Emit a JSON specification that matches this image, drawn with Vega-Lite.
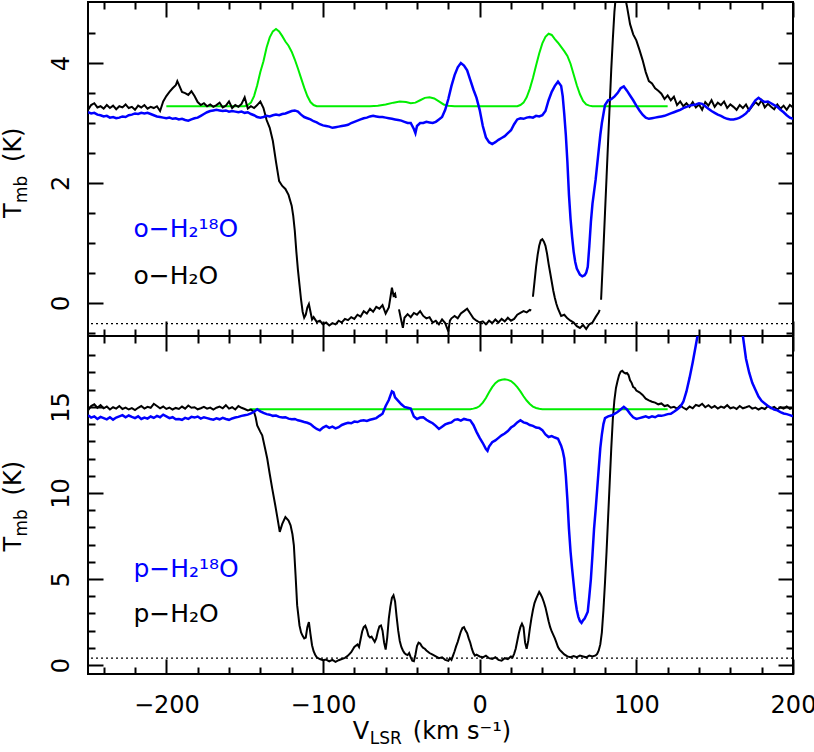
{
  "$schema": "https://vega.github.io/schema/vega-lite/v6.json",
  "padding": 0,
  "spacing": 0,
  "bounds": "flush",
  "config": {
    "view": {"stroke": "black", "strokeWidth": 2},
    "axis": {"domain": false, "grid": false, "labelFont": "DejaVu Sans", "labelFontSize": 24, "labelColor": "black", "tickColor": "black", "tickWidth": 2, "labelFlush": false, "labelOverlap": false, "title": null},
    "text": {"font": "DejaVu Sans"},
    "concat": {"spacing": 0}
  },
  "datasets": {
    "o_model": [
      {"v":-200,"T":3.28},{"v":-150,"T":3.28},{"v":-148,"T":3.30},{"v":-146,"T":3.34},{"v":-144,"T":3.45},{"v":-142,"T":3.63},{"v":-140,"T":3.85},{"v":-138,"T":4.03},{"v":-136,"T":4.26},{"v":-134,"T":4.43},{"v":-132,"T":4.53},{"v":-130,"T":4.57},{"v":-128,"T":4.53},{"v":-126,"T":4.45},{"v":-124,"T":4.36},{"v":-122,"T":4.29},{"v":-120,"T":4.19},{"v":-118,"T":4.06},{"v":-116,"T":3.91},{"v":-114,"T":3.75},{"v":-112,"T":3.59},{"v":-110,"T":3.45},{"v":-108,"T":3.35},{"v":-106,"T":3.30},{"v":-104,"T":3.28},{"v":-70,"T":3.28},{"v":-65,"T":3.29},{"v":-60,"T":3.31},{"v":-55,"T":3.34},{"v":-51,"T":3.36},{"v":-47,"T":3.35},{"v":-44,"T":3.33},{"v":-41,"T":3.34},{"v":-38,"T":3.38},{"v":-35,"T":3.42},{"v":-32,"T":3.43},{"v":-29,"T":3.41},{"v":-26,"T":3.36},{"v":-23,"T":3.31},{"v":-20,"T":3.29},{"v":-16,"T":3.28},{"v":24,"T":3.28},{"v":26,"T":3.30},{"v":28,"T":3.34},{"v":30,"T":3.43},{"v":32,"T":3.57},{"v":34,"T":3.75},{"v":36,"T":3.96},{"v":38,"T":4.16},{"v":40,"T":4.33},{"v":42,"T":4.44},{"v":44,"T":4.49},{"v":46,"T":4.47},{"v":48,"T":4.40},{"v":50,"T":4.34},{"v":52,"T":4.27},{"v":54,"T":4.20},{"v":56,"T":4.12},{"v":58,"T":3.99},{"v":60,"T":3.81},{"v":62,"T":3.63},{"v":64,"T":3.48},{"v":66,"T":3.37},{"v":68,"T":3.31},{"v":70,"T":3.29},{"v":72,"T":3.28},{"v":120,"T":3.28}
    ],
    "o_h2o": [
      {"v":-250,"T":3.22,"seg":1},{"v":-248,"T":3.30,"seg":1},{"v":-246,"T":3.33,"seg":1},{"v":-244,"T":3.26,"seg":1},{"v":-242,"T":3.28,"seg":1},{"v":-240,"T":3.24,"seg":1},{"v":-238,"T":3.30,"seg":1},{"v":-236,"T":3.25,"seg":1},{"v":-234,"T":3.29,"seg":1},{"v":-232,"T":3.23,"seg":1},{"v":-230,"T":3.28,"seg":1},{"v":-228,"T":3.26,"seg":1},{"v":-226,"T":3.31,"seg":1},{"v":-224,"T":3.25,"seg":1},{"v":-222,"T":3.27,"seg":1},{"v":-220,"T":3.22,"seg":1},{"v":-218,"T":3.29,"seg":1},{"v":-216,"T":3.26,"seg":1},{"v":-214,"T":3.30,"seg":1},{"v":-212,"T":3.24,"seg":1},{"v":-210,"T":3.27,"seg":1},{"v":-208,"T":3.25,"seg":1},{"v":-206,"T":3.28,"seg":1},{"v":-204,"T":3.20,"seg":1},{"v":-202,"T":3.36,"seg":1},{"v":-200,"T":3.45,"seg":1},{"v":-198,"T":3.52,"seg":1},{"v":-196,"T":3.58,"seg":1},{"v":-194,"T":3.63,"seg":1},{"v":-193,"T":3.70,"seg":1},{"v":-192,"T":3.64,"seg":1},{"v":-190,"T":3.52,"seg":1},{"v":-188,"T":3.50,"seg":1},{"v":-186,"T":3.47,"seg":1},{"v":-184,"T":3.53,"seg":1},{"v":-182,"T":3.45,"seg":1},{"v":-180,"T":3.35,"seg":1},{"v":-178,"T":3.30,"seg":1},{"v":-176,"T":3.33,"seg":1},{"v":-174,"T":3.28,"seg":1},{"v":-172,"T":3.31,"seg":1},{"v":-170,"T":3.27,"seg":1},{"v":-168,"T":3.30,"seg":1},{"v":-166,"T":3.34,"seg":1},{"v":-164,"T":3.26,"seg":1},{"v":-162,"T":3.29,"seg":1},{"v":-160,"T":3.36,"seg":1},{"v":-158,"T":3.25,"seg":1},{"v":-156,"T":3.30,"seg":1},{"v":-154,"T":3.27,"seg":1},{"v":-152,"T":3.32,"seg":1},{"v":-150,"T":3.43,"seg":1},{"v":-148,"T":3.24,"seg":1},{"v":-146,"T":3.28,"seg":1},{"v":-144,"T":3.25,"seg":1},{"v":-142,"T":3.30,"seg":1},{"v":-140,"T":3.36,"seg":1},{"v":-138,"T":3.25,"seg":1},{"v":-136,"T":3.05,"seg":1},{"v":-134,"T":2.92,"seg":1},{"v":-132,"T":2.70,"seg":1},{"v":-130,"T":2.35,"seg":1},{"v":-128,"T":2.03,"seg":1},{"v":-126,"T":1.95,"seg":1},{"v":-124,"T":1.90,"seg":1},{"v":-122,"T":1.80,"seg":1},{"v":-120,"T":1.62,"seg":1},{"v":-119,"T":1.45,"seg":1},{"v":-118,"T":1.20,"seg":1},{"v":-117,"T":0.85,"seg":1},{"v":-116,"T":0.55,"seg":1},{"v":-115,"T":0.30,"seg":1},{"v":-114,"T":0.05,"seg":1},{"v":-113,"T":-0.15,"seg":1},{"v":-112,"T":-0.25,"seg":1},{"v":-111,"T":-0.20,"seg":1},{"v":-110,"T":-0.08,"seg":1},{"v":-109,"T":-0.02,"seg":1},{"v":-108,"T":-0.15,"seg":1},{"v":-107,"T":-0.28,"seg":1},{"v":-106,"T":-0.24,"seg":1},{"v":-104,"T":-0.32,"seg":1},{"v":-102,"T":-0.30,"seg":1},{"v":-100,"T":-0.36,"seg":1},{"v":-98,"T":-0.33,"seg":1},{"v":-96,"T":-0.38,"seg":1},{"v":-94,"T":-0.34,"seg":1},{"v":-92,"T":-0.36,"seg":1},{"v":-90,"T":-0.30,"seg":1},{"v":-88,"T":-0.33,"seg":1},{"v":-86,"T":-0.27,"seg":1},{"v":-84,"T":-0.29,"seg":1},{"v":-82,"T":-0.24,"seg":1},{"v":-80,"T":-0.27,"seg":1},{"v":-78,"T":-0.20,"seg":1},{"v":-76,"T":-0.23,"seg":1},{"v":-74,"T":-0.14,"seg":1},{"v":-72,"T":-0.18,"seg":1},{"v":-70,"T":-0.10,"seg":1},{"v":-68,"T":-0.15,"seg":1},{"v":-66,"T":-0.07,"seg":1},{"v":-64,"T":-0.10,"seg":1},{"v":-62,"T":-0.04,"seg":1},{"v":-60,"T":-0.18,"seg":1},{"v":-58,"T":-0.08,"seg":1},{"v":-56,"T":0.25,"seg":1},{"v":-55,"T":0.12,"seg":1},{"v":-54,"T":0.15,"seg":1},{"v":-53.5,"T":0.08,"seg":1},
      {"v":-51.5,"T":-0.11,"seg":2},{"v":-50,"T":-0.30,"seg":2},{"v":-49,"T":-0.42,"seg":2},{"v":-48,"T":-0.25,"seg":2},{"v":-46,"T":-0.19,"seg":2},{"v":-44,"T":-0.24,"seg":2},{"v":-42,"T":-0.17,"seg":2},{"v":-40,"T":-0.20,"seg":2},{"v":-38,"T":-0.14,"seg":2},{"v":-36,"T":-0.22,"seg":2},{"v":-34,"T":-0.26,"seg":2},{"v":-32,"T":-0.24,"seg":2},{"v":-30,"T":-0.33,"seg":2},{"v":-28,"T":-0.30,"seg":2},{"v":-26,"T":-0.36,"seg":2},{"v":-24,"T":-0.28,"seg":2},{"v":-22,"T":-0.34,"seg":2},{"v":-20,"T":-0.48,"seg":2},{"v":-19,"T":-0.30,"seg":2},{"v":-18,"T":-0.26,"seg":2},{"v":-16,"T":-0.22,"seg":2},{"v":-14,"T":-0.26,"seg":2},{"v":-12,"T":-0.18,"seg":2},{"v":-10,"T":-0.14,"seg":2},{"v":-8,"T":-0.10,"seg":2},{"v":-6,"T":-0.18,"seg":2},{"v":-4,"T":-0.26,"seg":2},{"v":-2,"T":-0.30,"seg":2},{"v":0,"T":-0.33,"seg":2},{"v":2,"T":-0.31,"seg":2},{"v":4,"T":-0.36,"seg":2},{"v":6,"T":-0.30,"seg":2},{"v":8,"T":-0.34,"seg":2},{"v":10,"T":-0.28,"seg":2},{"v":12,"T":-0.33,"seg":2},{"v":14,"T":-0.27,"seg":2},{"v":16,"T":-0.31,"seg":2},{"v":18,"T":-0.25,"seg":2},{"v":20,"T":-0.30,"seg":2},{"v":22,"T":-0.27,"seg":2},{"v":24,"T":-0.20,"seg":2},{"v":26,"T":-0.17,"seg":2},{"v":28,"T":-0.14,"seg":2},{"v":30,"T":-0.16,"seg":2},{"v":32,"T":-0.12,"seg":2},{"v":32.9,"T":-0.13,"seg":2},
      {"v":34,"T":0.10,"seg":3},{"v":35,"T":0.35,"seg":3},{"v":36,"T":0.60,"seg":3},{"v":37,"T":0.80,"seg":3},{"v":38,"T":0.95,"seg":3},{"v":39,"T":1.04,"seg":3},{"v":40,"T":1.06,"seg":3},{"v":41,"T":1.02,"seg":3},{"v":42,"T":0.95,"seg":3},{"v":43,"T":0.82,"seg":3},{"v":44,"T":0.65,"seg":3},{"v":45,"T":0.50,"seg":3},{"v":46,"T":0.35,"seg":3},{"v":47,"T":0.20,"seg":3},{"v":48,"T":0.08,"seg":3},{"v":49,"T":-0.02,"seg":3},{"v":50,"T":-0.10,"seg":3},{"v":52,"T":-0.22,"seg":3},{"v":54,"T":-0.20,"seg":3},{"v":56,"T":-0.26,"seg":3},{"v":58,"T":-0.30,"seg":3},{"v":60,"T":-0.33,"seg":3},{"v":62,"T":-0.39,"seg":3},{"v":64,"T":-0.42,"seg":3},{"v":66,"T":-0.37,"seg":3},{"v":68,"T":-0.44,"seg":3},{"v":70,"T":-0.36,"seg":3},{"v":72,"T":-0.33,"seg":3},{"v":74,"T":-0.24,"seg":3},{"v":76,"T":-0.16,"seg":3},{"v":76.6,"T":-0.12,"seg":3},
      {"v":77.5,"T":0.05,"seg":4},{"v":79,"T":0.9,"seg":4},{"v":80,"T":1.5,"seg":4},{"v":81,"T":2.1,"seg":4},{"v":82,"T":2.7,"seg":4},{"v":83,"T":3.3,"seg":4},{"v":84,"T":3.9,"seg":4},{"v":85,"T":4.4,"seg":4},{"v":86,"T":4.85,"seg":4},{"v":87,"T":5.15,"seg":4},{"v":88,"T":5.3,"seg":4},{"v":90,"T":5.35,"seg":4},{"v":92,"T":5.2,"seg":4},{"v":94,"T":4.95,"seg":4},{"v":96,"T":4.65,"seg":4},{"v":98,"T":4.48,"seg":4},{"v":100,"T":4.38,"seg":4},{"v":102,"T":4.22,"seg":4},{"v":104,"T":4.05,"seg":4},{"v":106,"T":3.85,"seg":4},{"v":108,"T":3.70,"seg":4},{"v":110,"T":3.66,"seg":4},{"v":112,"T":3.58,"seg":4},{"v":114,"T":3.54,"seg":4},{"v":116,"T":3.49,"seg":4},{"v":118,"T":3.40,"seg":4},{"v":120,"T":3.46,"seg":4},{"v":122,"T":3.38,"seg":4},{"v":124,"T":3.44,"seg":4},{"v":126,"T":3.30,"seg":4},{"v":128,"T":3.36,"seg":4},{"v":130,"T":3.28,"seg":4},{"v":132,"T":3.33,"seg":4},{"v":134,"T":3.27,"seg":4},{"v":136,"T":3.35,"seg":4},{"v":138,"T":3.26,"seg":4},{"v":140,"T":3.31,"seg":4},{"v":142,"T":3.22,"seg":4},{"v":144,"T":3.35,"seg":4},{"v":146,"T":3.29,"seg":4},{"v":148,"T":3.38,"seg":4},{"v":150,"T":3.27,"seg":4},{"v":152,"T":3.34,"seg":4},{"v":154,"T":3.30,"seg":4},{"v":156,"T":3.36,"seg":4},{"v":158,"T":3.25,"seg":4},{"v":160,"T":3.31,"seg":4},{"v":162,"T":3.27,"seg":4},{"v":164,"T":3.22,"seg":4},{"v":166,"T":3.30,"seg":4},{"v":168,"T":3.25,"seg":4},{"v":170,"T":3.31,"seg":4},{"v":172,"T":3.21,"seg":4},{"v":174,"T":3.28,"seg":4},{"v":176,"T":3.35,"seg":4},{"v":178,"T":3.30,"seg":4},{"v":180,"T":3.38,"seg":4},{"v":182,"T":3.26,"seg":4},{"v":184,"T":3.32,"seg":4},{"v":186,"T":3.27,"seg":4},{"v":188,"T":3.23,"seg":4},{"v":190,"T":3.31,"seg":4},{"v":192,"T":3.24,"seg":4},{"v":194,"T":3.29,"seg":4},{"v":196,"T":3.22,"seg":4},{"v":198,"T":3.30,"seg":4},{"v":200,"T":3.26,"seg":4}
    ],
    "o_h218o": [
      {"v":-250,"T":3.18},{"v":-248,"T":3.16},{"v":-246,"T":3.17},{"v":-244,"T":3.14},{"v":-242,"T":3.13},{"v":-240,"T":3.11},{"v":-238,"T":3.12},{"v":-236,"T":3.09},{"v":-234,"T":3.10},{"v":-232,"T":3.08},{"v":-230,"T":3.09},{"v":-228,"T":3.11},{"v":-226,"T":3.10},{"v":-224,"T":3.13},{"v":-222,"T":3.14},{"v":-220,"T":3.16},{"v":-218,"T":3.15},{"v":-216,"T":3.17},{"v":-214,"T":3.16},{"v":-212,"T":3.17},{"v":-210,"T":3.15},{"v":-208,"T":3.13},{"v":-206,"T":3.11},{"v":-204,"T":3.10},{"v":-202,"T":3.09},{"v":-200,"T":3.08},{"v":-198,"T":3.09},{"v":-196,"T":3.07},{"v":-194,"T":3.08},{"v":-192,"T":3.06},{"v":-190,"T":3.07},{"v":-188,"T":3.05},{"v":-186,"T":3.04},{"v":-184,"T":3.06},{"v":-182,"T":3.08},{"v":-180,"T":3.09},{"v":-178,"T":3.12},{"v":-176,"T":3.15},{"v":-174,"T":3.18},{"v":-172,"T":3.20},{"v":-170,"T":3.21},{"v":-168,"T":3.22},{"v":-166,"T":3.21},{"v":-164,"T":3.20},{"v":-162,"T":3.21},{"v":-160,"T":3.19},{"v":-158,"T":3.20},{"v":-156,"T":3.19},{"v":-154,"T":3.18},{"v":-152,"T":3.19},{"v":-150,"T":3.17},{"v":-148,"T":3.18},{"v":-146,"T":3.15},{"v":-144,"T":3.13},{"v":-142,"T":3.10},{"v":-140,"T":3.09},{"v":-138,"T":3.10},{"v":-136,"T":3.12},{"v":-134,"T":3.11},{"v":-132,"T":3.13},{"v":-130,"T":3.14},{"v":-128,"T":3.13},{"v":-126,"T":3.15},{"v":-124,"T":3.16},{"v":-122,"T":3.18},{"v":-120,"T":3.20},{"v":-118,"T":3.21},{"v":-116,"T":3.19},{"v":-114,"T":3.14},{"v":-112,"T":3.10},{"v":-110,"T":3.08},{"v":-108,"T":3.06},{"v":-106,"T":3.03},{"v":-104,"T":3.01},{"v":-102,"T":2.98},{"v":-100,"T":2.96},{"v":-98,"T":2.95},{"v":-96,"T":2.94},{"v":-94,"T":2.92},{"v":-92,"T":2.93},{"v":-90,"T":2.94},{"v":-88,"T":2.95},{"v":-86,"T":2.96},{"v":-84,"T":2.97},{"v":-82,"T":3.00},{"v":-80,"T":3.02},{"v":-78,"T":3.04},{"v":-76,"T":3.06},{"v":-74,"T":3.08},{"v":-72,"T":3.09},{"v":-70,"T":3.11},{"v":-68,"T":3.12},{"v":-66,"T":3.11},{"v":-64,"T":3.10},{"v":-62,"T":3.10},{"v":-60,"T":3.09},{"v":-58,"T":3.08},{"v":-56,"T":3.07},{"v":-54,"T":3.06},{"v":-52,"T":3.05},{"v":-50,"T":3.04},{"v":-48,"T":3.02},{"v":-46,"T":3.00},{"v":-44,"T":3.00},{"v":-42,"T":2.90},{"v":-41,"T":2.83},{"v":-40,"T":2.95},{"v":-38,"T":3.00},{"v":-36,"T":3.00},{"v":-34,"T":3.02},{"v":-32,"T":3.01},{"v":-30,"T":3.00},{"v":-28,"T":3.02},{"v":-26,"T":3.06},{"v":-24,"T":3.10},{"v":-22,"T":3.22},{"v":-20,"T":3.40},{"v":-18,"T":3.62},{"v":-16,"T":3.80},{"v":-14,"T":3.93},{"v":-12,"T":4.00},{"v":-10,"T":3.96},{"v":-8,"T":3.88},{"v":-6,"T":3.72},{"v":-4,"T":3.56},{"v":-2,"T":3.42},{"v":0,"T":3.22},{"v":2,"T":2.95},{"v":4,"T":2.76},{"v":6,"T":2.68},{"v":8,"T":2.65},{"v":10,"T":2.68},{"v":12,"T":2.72},{"v":14,"T":2.75},{"v":16,"T":2.78},{"v":18,"T":2.83},{"v":20,"T":2.88},{"v":22,"T":2.98},{"v":24,"T":3.06},{"v":26,"T":3.08},{"v":28,"T":3.07},{"v":30,"T":3.09},{"v":32,"T":3.10},{"v":34,"T":3.09},{"v":36,"T":3.12},{"v":38,"T":3.11},{"v":40,"T":3.13},{"v":42,"T":3.20},{"v":44,"T":3.38},{"v":46,"T":3.52},{"v":48,"T":3.62},{"v":50,"T":3.69},{"v":52,"T":3.62},{"v":53,"T":3.45},{"v":54,"T":3.15},{"v":55,"T":2.80},{"v":56,"T":2.35},{"v":57,"T":1.80},{"v":58,"T":1.40},{"v":59,"T":1.10},{"v":60,"T":0.85},{"v":61,"T":0.68},{"v":62,"T":0.57},{"v":64,"T":0.47},{"v":65.5,"T":0.44},{"v":67,"T":0.46},{"v":68,"T":0.50},{"v":69,"T":0.60},{"v":70,"T":0.95},{"v":71,"T":1.35},{"v":72,"T":1.65},{"v":73,"T":1.85},{"v":74,"T":2.05},{"v":75,"T":2.30},{"v":76,"T":2.55},{"v":77,"T":2.80},{"v":78,"T":3.00},{"v":79,"T":3.15},{"v":80,"T":3.30},{"v":82,"T":3.38},{"v":84,"T":3.40},{"v":86,"T":3.44},{"v":88,"T":3.50},{"v":90,"T":3.58},{"v":92,"T":3.61},{"v":94,"T":3.54},{"v":96,"T":3.46},{"v":98,"T":3.38},{"v":100,"T":3.29},{"v":102,"T":3.21},{"v":104,"T":3.14},{"v":106,"T":3.09},{"v":108,"T":3.07},{"v":110,"T":3.08},{"v":112,"T":3.09},{"v":114,"T":3.10},{"v":116,"T":3.11},{"v":118,"T":3.12},{"v":120,"T":3.14},{"v":122,"T":3.16},{"v":124,"T":3.18},{"v":126,"T":3.20},{"v":128,"T":3.22},{"v":130,"T":3.25},{"v":132,"T":3.27},{"v":134,"T":3.29},{"v":136,"T":3.30},{"v":138,"T":3.31},{"v":140,"T":3.33},{"v":142,"T":3.32},{"v":144,"T":3.28},{"v":146,"T":3.24},{"v":148,"T":3.20},{"v":150,"T":3.17},{"v":152,"T":3.14},{"v":154,"T":3.12},{"v":156,"T":3.09},{"v":158,"T":3.07},{"v":160,"T":3.06},{"v":162,"T":3.06},{"v":164,"T":3.07},{"v":166,"T":3.09},{"v":168,"T":3.12},{"v":170,"T":3.16},{"v":172,"T":3.22},{"v":174,"T":3.30},{"v":176,"T":3.38},{"v":178,"T":3.42},{"v":180,"T":3.38},{"v":182,"T":3.35},{"v":184,"T":3.36},{"v":186,"T":3.33},{"v":188,"T":3.30},{"v":190,"T":3.27},{"v":192,"T":3.22},{"v":194,"T":3.18},{"v":196,"T":3.13},{"v":198,"T":3.09},{"v":200,"T":3.07}
    ],
    "p_model": [
      {"v":-147,"T":14.87},{"v":-6,"T":14.87},{"v":-4,"T":14.90},{"v":-2,"T":14.95},{"v":0,"T":15.05},{"v":2,"T":15.25},{"v":4,"T":15.52},{"v":6,"T":15.85},{"v":8,"T":16.15},{"v":10,"T":16.38},{"v":12,"T":16.52},{"v":14,"T":16.58},{"v":16,"T":16.60},{"v":18,"T":16.57},{"v":20,"T":16.50},{"v":22,"T":16.35},{"v":24,"T":16.15},{"v":26,"T":15.90},{"v":28,"T":15.62},{"v":30,"T":15.37},{"v":32,"T":15.17},{"v":34,"T":15.02},{"v":36,"T":14.94},{"v":38,"T":14.89},{"v":40,"T":14.87},{"v":120,"T":14.87}
    ],
    "p_h2o": [
      {"v":-250,"T":14.80},{"v":-248,"T":15.05},{"v":-246,"T":15.15},{"v":-244,"T":14.95},{"v":-242,"T":15.10},{"v":-240,"T":14.92},{"v":-238,"T":15.02},{"v":-236,"T":14.85},{"v":-234,"T":14.98},{"v":-232,"T":14.90},{"v":-230,"T":15.05},{"v":-228,"T":14.88},{"v":-226,"T":14.96},{"v":-224,"T":14.85},{"v":-222,"T":14.93},{"v":-220,"T":14.82},{"v":-218,"T":14.95},{"v":-216,"T":15.05},{"v":-214,"T":14.90},{"v":-212,"T":15.00},{"v":-210,"T":14.95},{"v":-208,"T":15.18},{"v":-206,"T":15.05},{"v":-204,"T":14.92},{"v":-202,"T":15.02},{"v":-200,"T":14.88},{"v":-198,"T":14.96},{"v":-196,"T":14.85},{"v":-194,"T":14.94},{"v":-192,"T":14.88},{"v":-190,"T":15.02},{"v":-188,"T":14.90},{"v":-186,"T":15.08},{"v":-184,"T":14.95},{"v":-182,"T":14.98},{"v":-180,"T":14.86},{"v":-178,"T":14.92},{"v":-176,"T":15.00},{"v":-174,"T":14.90},{"v":-172,"T":14.96},{"v":-170,"T":14.84},{"v":-168,"T":14.95},{"v":-166,"T":15.02},{"v":-164,"T":14.92},{"v":-162,"T":15.10},{"v":-160,"T":14.90},{"v":-158,"T":14.98},{"v":-156,"T":14.85},{"v":-154,"T":15.05},{"v":-152,"T":14.95},{"v":-150,"T":14.88},{"v":-148,"T":14.80},{"v":-146,"T":14.85},{"v":-144,"T":14.70},{"v":-143,"T":14.40},{"v":-142,"T":13.93},{"v":-140,"T":13.55},{"v":-138.8,"T":13.35},{"v":-137,"T":12.60},{"v":-135.6,"T":12.00},{"v":-134,"T":11.10},{"v":-132.4,"T":10.25},{"v":-130.5,"T":9.30},{"v":-129.2,"T":8.61},{"v":-127.6,"T":7.74},{"v":-126,"T":8.20},{"v":-124,"T":8.60},{"v":-122,"T":8.40},{"v":-120.7,"T":8.12},{"v":-119.5,"T":7.60},{"v":-118.6,"T":6.96},{"v":-117.5,"T":5.20},{"v":-116.5,"T":3.48},{"v":-115,"T":2.30},{"v":-114,"T":1.90},{"v":-113,"T":1.70},{"v":-112,"T":1.55},{"v":-111,"T":1.60},{"v":-110,"T":2.20},{"v":-109,"T":2.50},{"v":-108,"T":1.80},{"v":-107,"T":1.15},{"v":-106,"T":0.80},{"v":-105,"T":0.60},{"v":-104,"T":0.45},{"v":-102,"T":0.35},{"v":-100,"T":0.28},{"v":-98,"T":0.32},{"v":-96,"T":0.22},{"v":-94,"T":0.30},{"v":-92,"T":0.18},{"v":-90,"T":0.28},{"v":-88,"T":0.35},{"v":-86,"T":0.42},{"v":-84,"T":0.55},{"v":-82,"T":0.75},{"v":-80,"T":1.05},{"v":-78,"T":1.20},{"v":-77,"T":1.05},{"v":-76,"T":1.50},{"v":-75,"T":1.95},{"v":-74,"T":2.20},{"v":-73,"T":2.28},{"v":-72,"T":2.05},{"v":-71,"T":1.70},{"v":-70,"T":1.60},{"v":-69,"T":1.65},{"v":-68,"T":1.50},{"v":-67,"T":1.35},{"v":-66,"T":1.55},{"v":-65,"T":1.95},{"v":-64,"T":2.25},{"v":-63,"T":2.30},{"v":-62,"T":2.00},{"v":-61,"T":1.30},{"v":-60,"T":0.90},{"v":-59,"T":1.60},{"v":-58,"T":2.70},{"v":-57,"T":3.40},{"v":-56,"T":3.90},{"v":-55,"T":4.05},{"v":-54,"T":3.70},{"v":-53,"T":2.80},{"v":-52,"T":2.00},{"v":-51,"T":1.40},{"v":-50,"T":1.05},{"v":-49,"T":0.85},{"v":-48,"T":0.70},{"v":-47,"T":0.62},{"v":-46,"T":0.58},{"v":-45,"T":0.70},{"v":-44,"T":0.45},{"v":-43,"T":0.25},{"v":-42,"T":0.22},{"v":-41,"T":0.60},{"v":-40,"T":1.10},{"v":-39,"T":1.30},{"v":-38,"T":1.25},{"v":-37,"T":1.10},{"v":-36,"T":1.00},{"v":-35,"T":0.95},{"v":-34,"T":0.85},{"v":-32,"T":0.70},{"v":-30,"T":0.60},{"v":-28,"T":0.50},{"v":-26,"T":0.40},{"v":-24,"T":0.45},{"v":-22,"T":0.30},{"v":-20,"T":0.25},{"v":-19,"T":0.40},{"v":-18,"T":0.30},{"v":-17,"T":0.55},{"v":-16,"T":0.80},{"v":-15,"T":1.10},{"v":-14,"T":1.35},{"v":-13,"T":1.65},{"v":-12,"T":1.95},{"v":-11,"T":2.15},{"v":-10,"T":2.20},{"v":-9,"T":2.00},{"v":-8,"T":1.85},{"v":-7,"T":1.55},{"v":-6,"T":1.30},{"v":-5,"T":0.95},{"v":-4,"T":0.70},{"v":-3,"T":0.55},{"v":-2,"T":0.60},{"v":0,"T":0.50},{"v":2,"T":0.45},{"v":4,"T":0.55},{"v":6,"T":0.40},{"v":8,"T":0.35},{"v":10,"T":0.45},{"v":12,"T":0.30},{"v":14,"T":0.25},{"v":16,"T":0.40},{"v":18,"T":0.35},{"v":20,"T":0.50},{"v":21,"T":0.45},{"v":22,"T":0.65},{"v":23,"T":0.95},{"v":24,"T":1.40},{"v":25,"T":1.85},{"v":26,"T":2.20},{"v":27,"T":2.40},{"v":28,"T":2.20},{"v":29,"T":1.30},{"v":30,"T":0.95},{"v":31,"T":1.40},{"v":32,"T":2.10},{"v":33,"T":2.70},{"v":34,"T":3.20},{"v":35,"T":3.60},{"v":36,"T":3.85},{"v":37,"T":4.05},{"v":38,"T":4.25},{"v":39,"T":4.10},{"v":40,"T":3.90},{"v":41,"T":3.65},{"v":42,"T":3.35},{"v":43,"T":2.95},{"v":44,"T":2.55},{"v":45,"T":2.20},{"v":46,"T":1.95},{"v":47,"T":1.75},{"v":48,"T":1.55},{"v":49,"T":1.30},{"v":50,"T":1.05},{"v":51,"T":0.90},{"v":52,"T":0.80},{"v":54,"T":0.62},{"v":56,"T":0.50},{"v":58,"T":0.45},{"v":60,"T":0.52},{"v":62,"T":0.46},{"v":64,"T":0.55},{"v":66,"T":0.50},{"v":68,"T":0.45},{"v":70,"T":0.55},{"v":72,"T":0.50},{"v":74,"T":0.56},{"v":75,"T":0.65},{"v":76,"T":0.85},{"v":77,"T":1.20},{"v":78,"T":1.90},{"v":79,"T":3.20},{"v":80,"T":4.80},{"v":81,"T":6.60},{"v":82,"T":8.60},{"v":83,"T":10.60},{"v":84,"T":12.60},{"v":85,"T":14.30},{"v":86,"T":15.40},{"v":87,"T":16.10},{"v":88,"T":16.50},{"v":89,"T":16.85},{"v":90,"T":17.05},{"v":91,"T":17.10},{"v":92,"T":17.00},{"v":93,"T":16.95},{"v":94,"T":16.98},{"v":95,"T":16.85},{"v":96,"T":16.55},{"v":97,"T":16.40},{"v":98,"T":16.15},{"v":99,"T":16.10},{"v":100,"T":15.95},{"v":102,"T":15.85},{"v":104,"T":15.70},{"v":106,"T":15.48},{"v":108,"T":15.38},{"v":110,"T":15.30},{"v":112,"T":15.25},{"v":114,"T":15.15},{"v":116,"T":15.20},{"v":118,"T":15.05},{"v":120,"T":15.10},{"v":122,"T":14.95},{"v":124,"T":15.00},{"v":126,"T":14.90},{"v":128,"T":15.08},{"v":130,"T":14.95},{"v":132,"T":14.85},{"v":134,"T":15.02},{"v":136,"T":14.92},{"v":138,"T":15.12},{"v":140,"T":15.05},{"v":142,"T":15.18},{"v":144,"T":14.98},{"v":146,"T":15.10},{"v":148,"T":14.95},{"v":150,"T":15.05},{"v":152,"T":14.90},{"v":154,"T":15.02},{"v":156,"T":14.95},{"v":158,"T":15.10},{"v":160,"T":14.92},{"v":162,"T":14.98},{"v":164,"T":14.88},{"v":166,"T":15.05},{"v":168,"T":14.92},{"v":170,"T":14.98},{"v":172,"T":15.05},{"v":174,"T":14.90},{"v":176,"T":14.96},{"v":178,"T":14.85},{"v":180,"T":14.95},{"v":182,"T":14.88},{"v":184,"T":15.05},{"v":186,"T":14.92},{"v":188,"T":15.00},{"v":190,"T":14.85},{"v":192,"T":14.98},{"v":194,"T":14.90},{"v":196,"T":15.02},{"v":198,"T":14.88},{"v":200,"T":14.95}
    ],
    "p_h218o": [
      {"v":-250,"T":14.51},{"v":-248,"T":14.38},{"v":-246,"T":14.45},{"v":-244,"T":14.30},{"v":-242,"T":14.42},{"v":-240,"T":14.35},{"v":-238,"T":14.28},{"v":-236,"T":14.40},{"v":-234,"T":14.26},{"v":-232,"T":14.38},{"v":-230,"T":14.45},{"v":-228,"T":14.52},{"v":-226,"T":14.40},{"v":-224,"T":14.50},{"v":-222,"T":14.42},{"v":-220,"T":14.35},{"v":-218,"T":14.45},{"v":-216,"T":14.30},{"v":-214,"T":14.38},{"v":-212,"T":14.32},{"v":-210,"T":14.44},{"v":-208,"T":14.36},{"v":-206,"T":14.48},{"v":-204,"T":14.40},{"v":-202,"T":14.55},{"v":-200,"T":14.45},{"v":-198,"T":14.35},{"v":-196,"T":14.40},{"v":-194,"T":14.28},{"v":-192,"T":14.30},{"v":-190,"T":14.25},{"v":-188,"T":14.36},{"v":-186,"T":14.30},{"v":-184,"T":14.42},{"v":-182,"T":14.38},{"v":-180,"T":14.44},{"v":-178,"T":14.32},{"v":-176,"T":14.40},{"v":-174,"T":14.35},{"v":-172,"T":14.30},{"v":-170,"T":14.26},{"v":-168,"T":14.34},{"v":-166,"T":14.28},{"v":-164,"T":14.36},{"v":-162,"T":14.30},{"v":-160,"T":14.25},{"v":-158,"T":14.33},{"v":-156,"T":14.38},{"v":-154,"T":14.42},{"v":-152,"T":14.48},{"v":-150,"T":14.52},{"v":-148,"T":14.55},{"v":-146,"T":14.62},{"v":-144,"T":14.72},{"v":-142,"T":14.86},{"v":-140,"T":14.74},{"v":-138,"T":14.65},{"v":-136,"T":14.58},{"v":-134,"T":14.55},{"v":-132,"T":14.48},{"v":-130,"T":14.50},{"v":-128,"T":14.42},{"v":-126,"T":14.38},{"v":-124,"T":14.40},{"v":-122,"T":14.32},{"v":-120,"T":14.28},{"v":-118,"T":14.30},{"v":-116,"T":14.22},{"v":-114,"T":14.18},{"v":-112,"T":14.12},{"v":-110,"T":14.08},{"v":-108,"T":14.00},{"v":-106,"T":13.85},{"v":-104,"T":13.72},{"v":-102,"T":13.64},{"v":-100,"T":13.80},{"v":-98,"T":13.90},{"v":-96,"T":13.78},{"v":-94,"T":13.85},{"v":-92,"T":13.75},{"v":-90,"T":13.82},{"v":-88,"T":13.95},{"v":-86,"T":14.02},{"v":-84,"T":14.08},{"v":-82,"T":14.05},{"v":-80,"T":14.15},{"v":-78,"T":14.12},{"v":-76,"T":14.20},{"v":-74,"T":14.22},{"v":-72,"T":14.18},{"v":-70,"T":14.25},{"v":-68,"T":14.30},{"v":-66,"T":14.35},{"v":-64,"T":14.48},{"v":-62,"T":14.60},{"v":-60,"T":15.05},{"v":-58,"T":15.40},{"v":-56,"T":15.90},{"v":-55,"T":15.85},{"v":-54,"T":15.55},{"v":-52,"T":15.35},{"v":-50,"T":15.15},{"v":-48,"T":15.00},{"v":-46,"T":14.95},{"v":-44,"T":14.90},{"v":-42,"T":14.45},{"v":-40,"T":14.30},{"v":-38,"T":14.38},{"v":-36,"T":14.40},{"v":-34,"T":14.25},{"v":-32,"T":14.15},{"v":-30,"T":14.05},{"v":-28,"T":13.90},{"v":-26,"T":13.72},{"v":-24,"T":13.85},{"v":-22,"T":13.98},{"v":-20,"T":14.05},{"v":-18,"T":14.10},{"v":-16,"T":14.25},{"v":-14,"T":14.28},{"v":-12,"T":14.20},{"v":-10,"T":14.30},{"v":-8,"T":14.25},{"v":-6,"T":14.22},{"v":-4,"T":13.95},{"v":-2,"T":13.55},{"v":0,"T":13.20},{"v":2,"T":12.90},{"v":4,"T":12.55},{"v":5,"T":12.45},{"v":6,"T":12.70},{"v":8,"T":12.95},{"v":10,"T":13.05},{"v":12,"T":13.20},{"v":14,"T":13.35},{"v":16,"T":13.45},{"v":18,"T":13.60},{"v":20,"T":13.80},{"v":22,"T":13.92},{"v":24,"T":14.10},{"v":26,"T":14.22},{"v":28,"T":14.10},{"v":30,"T":14.05},{"v":32,"T":13.95},{"v":34,"T":13.90},{"v":36,"T":13.80},{"v":38,"T":13.78},{"v":40,"T":13.65},{"v":42,"T":13.40},{"v":44,"T":13.25},{"v":46,"T":13.30},{"v":48,"T":13.22},{"v":50,"T":13.15},{"v":52,"T":12.75},{"v":53,"T":12.45},{"v":54,"T":12.00},{"v":55,"T":11.00},{"v":56,"T":9.60},{"v":57,"T":7.90},{"v":58,"T":6.60},{"v":59,"T":5.60},{"v":60,"T":4.70},{"v":61,"T":3.80},{"v":62,"T":3.20},{"v":63,"T":2.80},{"v":64,"T":2.55},{"v":65,"T":2.45},{"v":66,"T":2.60},{"v":67,"T":2.70},{"v":68,"T":2.90},{"v":69,"T":3.10},{"v":70,"T":4.00},{"v":71,"T":5.00},{"v":72,"T":6.40},{"v":73,"T":7.90},{"v":74,"T":9.00},{"v":75,"T":10.20},{"v":76,"T":11.40},{"v":77,"T":12.60},{"v":78,"T":13.40},{"v":79,"T":14.00},{"v":80,"T":14.35},{"v":82,"T":14.45},{"v":84,"T":14.50},{"v":86,"T":14.60},{"v":88,"T":14.70},{"v":90,"T":14.85},{"v":92,"T":15.00},{"v":94,"T":14.85},{"v":96,"T":14.60},{"v":98,"T":14.40},{"v":100,"T":14.30},{"v":102,"T":14.35},{"v":104,"T":14.40},{"v":106,"T":14.45},{"v":108,"T":14.38},{"v":110,"T":14.45},{"v":112,"T":14.40},{"v":114,"T":14.50},{"v":116,"T":14.48},{"v":118,"T":14.52},{"v":120,"T":14.58},{"v":122,"T":14.60},{"v":124,"T":14.72},{"v":126,"T":14.85},{"v":128,"T":15.00},{"v":130,"T":15.30},{"v":132,"T":15.90},{"v":134,"T":16.70},{"v":136,"T":17.60},{"v":138,"T":18.60},{"v":140,"T":19.60},{"v":142,"T":21.0},{"v":145,"T":23.5},{"v":150,"T":26.5},{"v":155,"T":27.0},{"v":160,"T":25.0},{"v":164,"T":22.0},{"v":167,"T":19.8},{"v":168.5,"T":18.8},{"v":170,"T":17.8},{"v":172,"T":17.0},{"v":174,"T":16.40},{"v":176,"T":16.00},{"v":178,"T":15.60},{"v":180,"T":15.35},{"v":182,"T":15.20},{"v":184,"T":15.05},{"v":186,"T":14.95},{"v":188,"T":14.85},{"v":190,"T":14.80},{"v":192,"T":14.70},{"v":194,"T":14.62},{"v":196,"T":14.58},{"v":198,"T":14.52},{"v":200,"T":14.45}
    ]
  },
  "vconcat": [
    {
      "width": 705,
      "height": 334,
      "resolve": {"axis": {"x": "independent", "y": "independent"}},
      "layer": [
        {
          "data": {"values": [{"level": -0.35}]},
          "mark": {"type": "rule", "color": "black", "strokeWidth": 1.3, "strokeDash": [2, 3]},
          "encoding": {"y": {"field": "level", "type": "quantitative", "scale": {"domain": [-0.555, 5.02], "nice": false, "zero": false}, "axis": null}}
        },
        {
          "data": {"name": "o_model"},
          "mark": {"type": "line", "color": "#00ee00", "strokeWidth": 2, "clip": true},
          "encoding": {
            "x": {"field": "v", "type": "quantitative", "scale": {"domain": [-250, 200], "nice": false, "zero": false},
              "axis": {"orient": "bottom", "values": [-200, -100, 0, 100, 200], "labels": false, "tickSize": -15}},
            "y": {"field": "T", "type": "quantitative", "scale": {"domain": [-0.555, 5.02], "nice": false, "zero": false},
              "axis": {"orient": "left", "values": [0, 2, 4], "tickSize": -15, "format": "d", "labelAngle": 270, "labelAlign": "center", "labelBaseline": "alphabetic", "labelPadding": 35}}
          }
        },
        {
          "data": {"name": "o_h2o"},
          "mark": {"type": "line", "color": "black", "strokeWidth": 2, "clip": true},
          "encoding": {
            "x": {"field": "v", "type": "quantitative", "scale": {"domain": [-250, 200], "nice": false, "zero": false},
              "axis": {"orient": "top", "values": [-200, -100, 0, 100, 200], "labels": false, "tickSize": -15}},
            "y": {"field": "T", "type": "quantitative", "scale": {"domain": [-0.555, 5.02], "nice": false, "zero": false},
              "axis": {"orient": "right", "values": [0, 2, 4], "labels": false, "tickSize": -15}},
            "detail": {"field": "seg", "type": "nominal"}
          }
        },
        {
          "data": {"name": "o_h218o"},
          "mark": {"type": "line", "color": "#0000ff", "strokeWidth": 2.5, "clip": true},
          "encoding": {
            "x": {"field": "v", "type": "quantitative", "scale": {"domain": [-250, 200], "nice": false, "zero": false},
              "axis": {"orient": "bottom", "values": [-240,-220,-180,-160,-140,-120,-80,-60,-40,-20,20,40,60,80,120,140,160,180], "labels": false, "tickSize": -7}},
            "y": {"field": "T", "type": "quantitative", "scale": {"domain": [-0.555, 5.02], "nice": false, "zero": false},
              "axis": {"orient": "left", "values": [-0.5, 0.5, 1, 1.5, 2.5, 3, 3.5, 4.5], "labels": false, "tickSize": -7}}
          }
        },
        {
          "data": {"values": [{"label": "o−H₂¹⁸O", "kind": "H218O", "vx": -221, "vy": 1.10}, {"label": "o−H₂O", "kind": "H2O", "vx": -221, "vy": 0.31}]},
          "mark": {"type": "text", "align": "left", "baseline": "alphabetic", "fontSize": 25, "font": "DejaVu Sans"},
          "encoding": {
            "text": {"field": "label"},
            "x": {"field": "vx", "type": "quantitative", "scale": {"domain": [-250, 200], "nice": false, "zero": false},
              "axis": {"orient": "top", "values": [-240,-220,-180,-160,-140,-120,-80,-60,-40,-20,20,40,60,80,120,140,160,180], "labels": false, "tickSize": -7}},
            "y": {"field": "vy", "type": "quantitative", "scale": {"domain": [-0.555, 5.02], "nice": false, "zero": false},
              "axis": {"orient": "right", "values": [-0.5, 0.5, 1, 1.5, 2.5, 3, 3.5, 4.5], "labels": false, "tickSize": -7}},
            "color": {"field": "kind", "type": "nominal", "scale": {"domain": ["H218O", "H2O"], "range": ["#0000ff", "#000000"]}, "legend": null}
          }
        },
        {
          "data": {"values": [{"t": "T"}]},
          "mark": {"type": "text", "angle": 270, "align": "left", "baseline": "alphabetic", "fontSize": 24, "color": "black"},
          "encoding": {"text": {"field": "t"}, "x": {"datum": -293, "scale": {"domain": [-250, 200], "nice": false, "zero": false}, "axis": null}, "y": {"datum": 1.415, "scale": {"domain": [-0.555, 5.02], "nice": false, "zero": false}, "axis": null}}
        },
        {
          "data": {"values": [{"t": "mb"}]},
          "mark": {"type": "text", "angle": 270, "align": "left", "baseline": "alphabetic", "fontSize": 17, "color": "black", "dx": 15, "dy": 6},
          "encoding": {"text": {"field": "t"}, "x": {"datum": -293, "scale": {"domain": [-250, 200], "nice": false, "zero": false}, "axis": null}, "y": {"datum": 1.415, "scale": {"domain": [-0.555, 5.02], "nice": false, "zero": false}, "axis": null}}
        },
        {
          "data": {"values": [{"t": "(K)"}]},
          "mark": {"type": "text", "angle": 270, "align": "left", "baseline": "alphabetic", "fontSize": 24, "color": "black", "dx": 56},
          "encoding": {"text": {"field": "t"}, "x": {"datum": -293, "scale": {"domain": [-250, 200], "nice": false, "zero": false}, "axis": null}, "y": {"datum": 1.415, "scale": {"domain": [-0.555, 5.02], "nice": false, "zero": false}, "axis": null}}
        }
      ]
    },
    {
      "width": 705,
      "height": 338,
      "resolve": {"axis": {"x": "independent", "y": "independent"}},
      "layer": [
        {
          "data": {"values": [{"level": 0.4}]},
          "mark": {"type": "rule", "color": "black", "strokeWidth": 1.3, "strokeDash": [2, 3]},
          "encoding": {"y": {"field": "level", "type": "quantitative", "scale": {"domain": [-0.52, 19.12], "nice": false, "zero": false}, "axis": null}}
        },
        {
          "data": {"name": "p_model"},
          "mark": {"type": "line", "color": "#00ee00", "strokeWidth": 2, "clip": true},
          "encoding": {
            "x": {"field": "v", "type": "quantitative", "scale": {"domain": [-250, 200], "nice": false, "zero": false},
              "axis": {"orient": "bottom", "values": [-200, -100, 0, 100, 200], "tickSize": -15, "format": "d", "labelAlign": "center", "labelBaseline": "alphabetic", "labelPadding": 53}},
            "y": {"field": "T", "type": "quantitative", "scale": {"domain": [-0.52, 19.12], "nice": false, "zero": false},
              "axis": {"orient": "left", "values": [0, 5, 10, 15], "tickSize": -15, "format": "d", "labelAngle": 270, "labelAlign": "center", "labelBaseline": "alphabetic", "labelPadding": 35}}
          }
        },
        {
          "data": {"name": "p_h2o"},
          "mark": {"type": "line", "color": "black", "strokeWidth": 2, "clip": true},
          "encoding": {
            "x": {"field": "v", "type": "quantitative", "scale": {"domain": [-250, 200], "nice": false, "zero": false},
              "axis": {"orient": "top", "values": [-200, -100, 0, 100, 200], "labels": false, "tickSize": -15}},
            "y": {"field": "T", "type": "quantitative", "scale": {"domain": [-0.52, 19.12], "nice": false, "zero": false},
              "axis": {"orient": "right", "values": [0, 5, 10, 15], "labels": false, "tickSize": -15}}
          }
        },
        {
          "data": {"name": "p_h218o"},
          "mark": {"type": "line", "color": "#0000ff", "strokeWidth": 2.5, "clip": true},
          "encoding": {
            "x": {"field": "v", "type": "quantitative", "scale": {"domain": [-250, 200], "nice": false, "zero": false},
              "axis": {"orient": "bottom", "values": [-240,-220,-180,-160,-140,-120,-80,-60,-40,-20,20,40,60,80,120,140,160,180], "labels": false, "tickSize": -7}},
            "y": {"field": "T", "type": "quantitative", "scale": {"domain": [-0.52, 19.12], "nice": false, "zero": false},
              "axis": {"orient": "left", "values": [1,2,3,4,6,7,8,9,11,12,13,14,16,17,18], "labels": false, "tickSize": -7}}
          }
        },
        {
          "data": {"values": [{"label": "p−H₂¹⁸O", "kind": "H218O", "vx": -221, "vy": 5.12}, {"label": "p−H₂O", "kind": "H2O", "vx": -221, "vy": 2.50}]},
          "mark": {"type": "text", "align": "left", "baseline": "alphabetic", "fontSize": 25, "font": "DejaVu Sans"},
          "encoding": {
            "text": {"field": "label"},
            "x": {"field": "vx", "type": "quantitative", "scale": {"domain": [-250, 200], "nice": false, "zero": false},
              "axis": {"orient": "top", "values": [-240,-220,-180,-160,-140,-120,-80,-60,-40,-20,20,40,60,80,120,140,160,180], "labels": false, "tickSize": -7}},
            "y": {"field": "vy", "type": "quantitative", "scale": {"domain": [-0.52, 19.12], "nice": false, "zero": false},
              "axis": {"orient": "right", "values": [1,2,3,4,6,7,8,9,11,12,13,14,16,17,18], "labels": false, "tickSize": -7}},
            "color": {"field": "kind", "type": "nominal", "scale": {"domain": ["H218O", "H2O"], "range": ["#0000ff", "#000000"]}, "legend": null}
          }
        },
        {
          "data": {"values": [{"t": "T"}]},
          "mark": {"type": "text", "angle": 270, "align": "left", "baseline": "alphabetic", "fontSize": 24, "color": "black"},
          "encoding": {"text": {"field": "t"}, "x": {"datum": -293, "scale": {"domain": [-250, 200], "nice": false, "zero": false}, "axis": null}, "y": {"datum": 6.6, "scale": {"domain": [-0.52, 19.12], "nice": false, "zero": false}, "axis": null}}
        },
        {
          "data": {"values": [{"t": "mb"}]},
          "mark": {"type": "text", "angle": 270, "align": "left", "baseline": "alphabetic", "fontSize": 17, "color": "black", "dx": 15, "dy": 6},
          "encoding": {"text": {"field": "t"}, "x": {"datum": -293, "scale": {"domain": [-250, 200], "nice": false, "zero": false}, "axis": null}, "y": {"datum": 6.6, "scale": {"domain": [-0.52, 19.12], "nice": false, "zero": false}, "axis": null}}
        },
        {
          "data": {"values": [{"t": "(K)"}]},
          "mark": {"type": "text", "angle": 270, "align": "left", "baseline": "alphabetic", "fontSize": 24, "color": "black", "dx": 56},
          "encoding": {"text": {"field": "t"}, "x": {"datum": -293, "scale": {"domain": [-250, 200], "nice": false, "zero": false}, "axis": null}, "y": {"datum": 6.6, "scale": {"domain": [-0.52, 19.12], "nice": false, "zero": false}, "axis": null}}
        },
        {
          "data": {"values": [{"t": "V"}]},
          "mark": {"type": "text", "align": "left", "baseline": "alphabetic", "fontSize": 24, "color": "black"},
          "encoding": {"text": {"field": "t"}, "x": {"datum": -81, "scale": {"domain": [-250, 200], "nice": false, "zero": false}, "axis": null}, "y": {"datum": -4.3, "scale": {"domain": [-0.52, 19.12], "nice": false, "zero": false}, "axis": null}}
        },
        {
          "data": {"values": [{"t": "LSR"}]},
          "mark": {"type": "text", "align": "left", "baseline": "alphabetic", "fontSize": 17, "color": "black", "dx": 17, "dy": 5},
          "encoding": {"text": {"field": "t"}, "x": {"datum": -81, "scale": {"domain": [-250, 200], "nice": false, "zero": false}, "axis": null}, "y": {"datum": -4.3, "scale": {"domain": [-0.52, 19.12], "nice": false, "zero": false}, "axis": null}}
        },
        {
          "data": {"values": [{"t": "(km s⁻¹)"}]},
          "mark": {"type": "text", "align": "left", "baseline": "alphabetic", "fontSize": 24, "color": "black", "dx": 60},
          "encoding": {"text": {"field": "t"}, "x": {"datum": -81, "scale": {"domain": [-250, 200], "nice": false, "zero": false}, "axis": null}, "y": {"datum": -4.3, "scale": {"domain": [-0.52, 19.12], "nice": false, "zero": false}, "axis": null}}
        }
      ]
    }
  ]
}
